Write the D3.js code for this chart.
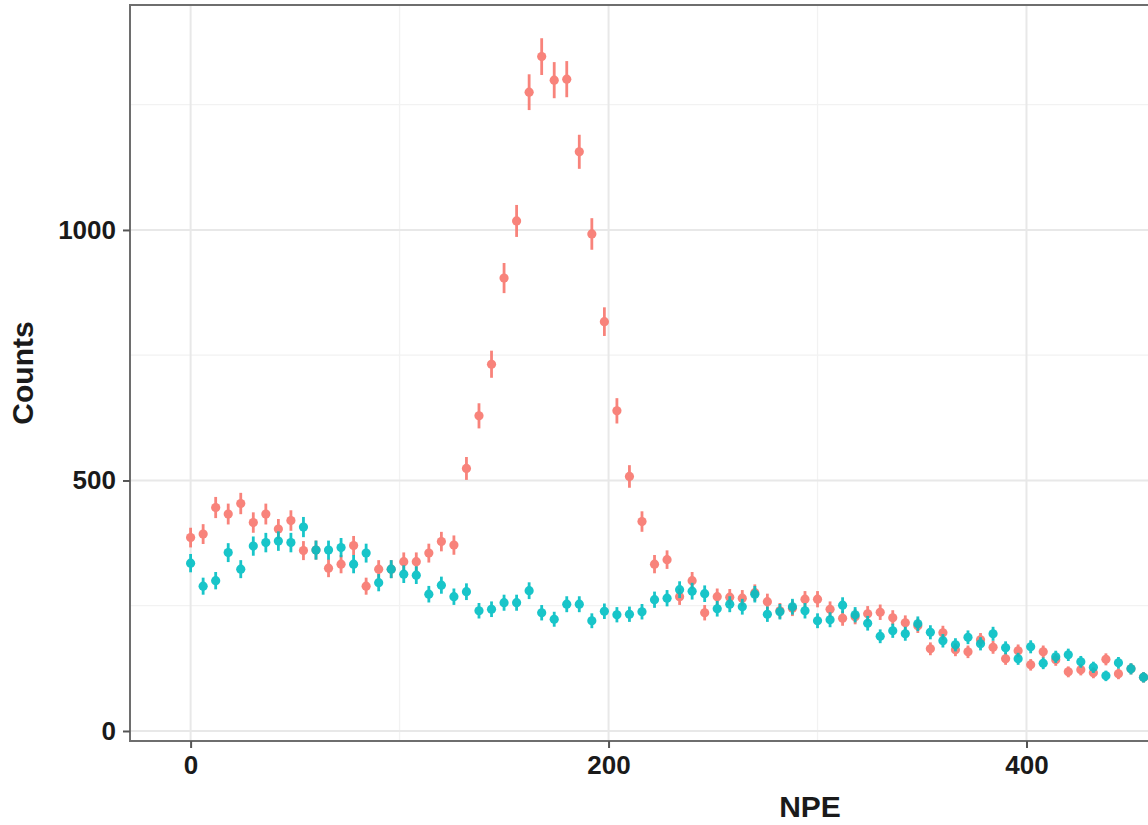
<!DOCTYPE html>
<html>
<head>
<meta charset="utf-8">
<script src="https://cdn.jsdelivr.net/npm/d3@7"></script>
<style>
  body { margin: 0; background: #fff; }
  text { font-family: "Liberation Sans", Arial, sans-serif; font-weight: bold; fill: #1a1a1a; }
</style>
</head>
<body>
<div id="chart"></div>
<script>
var width = 1148, height = 825;

// bin centres (NPE)
var npe = [0, 6, 12, 18, 24, 30, 36, 42, 48, 54, 60, 66, 72, 78, 84, 90, 96, 102, 108, 114,
  120, 126, 132, 138, 144, 150, 156, 162, 168, 174, 180, 186, 192, 198, 204, 210, 216, 222, 228, 234,
  240, 246, 252, 258, 264, 270, 276, 282, 288, 294, 300, 306, 312, 318, 324, 330, 336, 342, 348, 354,
  360, 366, 372, 378, 384, 390, 396, 402, 408, 414, 420, 426, 432, 438, 444, 450, 456];

// red series
var countsA = [386, 393, 446, 433, 454, 416, 433, 403, 420, 360, 361, 325, 333, 370, 289, 323, 323, 338, 338, 355,
  378, 371, 524, 629, 732, 904, 1018, 1275, 1346, 1299, 1301, 1156, 992, 817, 639, 508, 418, 333, 342, 268,
  300, 236, 268, 267, 265, 276, 258, 240, 245, 263, 263, 243, 225, 228, 234, 237, 226, 216, 210, 164,
  196, 162, 158, 182, 167, 144, 160, 132, 158, 142, 118, 122, 116, 143, 114, 124, 107];

// teal series
var countsB = [335, 289, 300, 356, 323, 369, 376, 379, 376, 407, 361, 361, 366, 333, 355, 296, 323, 313, 311, 273,
  291, 268, 278, 240, 243, 256, 256, 280, 236, 223, 253, 253, 220, 239, 232, 233, 238, 262, 265, 282,
  279, 274, 244, 253, 248, 273, 233, 238, 248, 240, 220, 222, 251, 232, 215, 189, 200, 194, 214, 197,
  180, 172, 187, 174, 194, 166, 144, 168, 135, 148, 152, 138, 127, 110, 136, 124, 107];

var xTicks = [0, 200, 400];
var xMajor = [0, 200, 400, 600];
var xMinor = [100, 300, 500];
var yMajor = [0, 500, 1000];
var yMinor = [250, 750, 1250];

var colorA = "#F8766D", colorB = "#00BFC4";

var panel = { left: 130, top: 5, right: 1490, bottom: 741 };

var x = d3.scaleLinear().domain([-29, 621.8]).range([panel.left, panel.right]);
var y = d3.scaleLinear().domain([-20, 1449]).range([panel.bottom, panel.top]);

var svg = d3.select("#chart").append("svg")
    .attr("width", width)
    .attr("height", height);

// grid
var grid = svg.append("g").attr("class", "grid");
grid.selectAll("line.ymin").data(yMinor).enter().append("line")
    .attr("x1", panel.left).attr("x2", panel.right)
    .attr("y1", function(d){ return y(d); }).attr("y2", function(d){ return y(d); })
    .style("stroke", "#f2f2f2").style("stroke-width", 1.3);
grid.selectAll("line.xmin").data(xMinor).enter().append("line")
    .attr("y1", panel.top).attr("y2", panel.bottom)
    .attr("x1", function(d){ return x(d); }).attr("x2", function(d){ return x(d); })
    .style("stroke", "#f2f2f2").style("stroke-width", 1.3);
grid.selectAll("line.ymaj").data(yMajor).enter().append("line")
    .attr("x1", panel.left).attr("x2", panel.right)
    .attr("y1", function(d){ return y(d); }).attr("y2", function(d){ return y(d); })
    .style("stroke", "#e8e8e8").style("stroke-width", 2);
grid.selectAll("line.xmaj").data(xMajor).enter().append("line")
    .attr("y1", panel.top).attr("y2", panel.bottom)
    .attr("x1", function(d){ return x(d); }).attr("x2", function(d){ return x(d); })
    .style("stroke", "#e8e8e8").style("stroke-width", 2);

// points with error bars
function drawSeries(values, color){
    var g = svg.append("g");
    var pts = g.selectAll("g").data(values).enter().append("g")
        .attr("opacity", 0.9);
    pts.append("line")
        .attr("x1", function(d, i){ return x(npe[i]); })
        .attr("x2", function(d, i){ return x(npe[i]); })
        .attr("y1", function(d){ return y(d - Math.sqrt(d)); })
        .attr("y2", function(d){ return y(d + Math.sqrt(d)); })
        .style("stroke", color).style("stroke-width", 2.8);
    pts.append("circle")
        .attr("cx", function(d, i){ return x(npe[i]); })
        .attr("cy", function(d){ return y(d); })
        .attr("r", 4.6)
        .style("fill", color);
}
drawSeries(countsA, colorA);
drawSeries(countsB, colorB);

// panel border
svg.append("rect")
    .attr("x", panel.left).attr("y", panel.top)
    .attr("width", panel.right - panel.left).attr("height", panel.bottom - panel.top)
    .style("fill", "none").style("stroke", "#6e6e6e").style("stroke-width", 2);

// axes
var xAxis = svg.append("g")
    .attr("transform", "translate(0," + panel.bottom + ")")
    .call(d3.axisBottom(x).tickValues(xTicks).tickSize(7).tickPadding(8).tickFormat(d3.format("d")));
var yAxis = svg.append("g")
    .attr("transform", "translate(" + panel.left + ",0)")
    .call(d3.axisLeft(y).tickValues(yMajor).tickSize(7).tickPadding(7).tickFormat(d3.format("d")));

[xAxis, yAxis].forEach(function(a){
    a.select(".domain").remove();
    a.selectAll(".tick line").style("stroke", "#555").style("stroke-width", 2);
    a.selectAll(".tick text").style("font-size", "26px").style("font-family", "'Liberation Sans', Arial, sans-serif")
        .style("font-weight", "bold").style("fill", "#1a1a1a");
});

// axis titles
svg.append("text")
    .attr("x", (panel.left + panel.right) / 2)
    .attr("y", 817)
    .attr("text-anchor", "middle")
    .style("font-size", "30px")
    .text("NPE");
svg.append("text")
    .attr("transform", "translate(33," + ((panel.top + panel.bottom) / 2) + ") rotate(-90)")
    .attr("text-anchor", "middle")
    .style("font-size", "30px")
    .text("Counts");
</script>
</body>
</html>
